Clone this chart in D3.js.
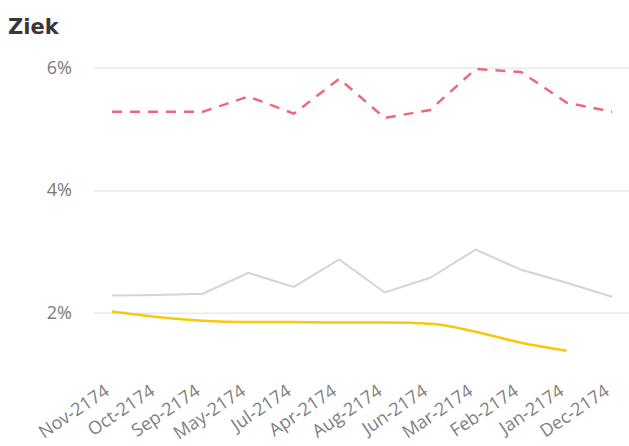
<!DOCTYPE html>
<html><head><meta charset="utf-8">
<script src="https://cdn.jsdelivr.net/npm/d3@7"></script>
<style>
body{margin:0;background:#fff;}
svg{display:block;font-family:"Open Sans",sans-serif;}
</style></head>
<body><svg id="c" width="629" height="446"></svg>
<script>
const categories = ["Nov-2174","Oct-2174","Sep-2174","May-2174","Jul-2174","Apr-2174","Aug-2174","Jun-2174","Mar-2174","Feb-2174","Jan-2174","Dec-2174"];
const redValues = [5.28,5.28,5.28,5.53,5.25,5.82,5.18,5.31,5.98,5.93,5.43,5.28];
const grayValues = [2.28,2.29,2.31,2.65,2.42,2.87,2.33,2.57,3.03,2.70,2.49,2.26];
const yellowValues = [2.02,1.93,1.87,1.85,1.85,1.84,1.84,1.82,1.69,1.51,1.38,null];
const yTicks = [2,4,6];
const title = "Ziek";

const svg = d3.select("#c");
const x = d3.scalePoint().domain(categories).range([112,612]);
const y = d3.scaleLinear().domain([2,6]).range([312.7,67.7]);

svg.append("text").attr("x",8).attr("y",34).text(title)
  .attr("font-size",21).attr("font-weight","bold").attr("fill","#383838")
  .attr("font-family","DejaVu Sans, sans-serif");

const yAxis = svg.append("g").attr("transform","translate(94,0)")
  .call(d3.axisLeft(y).tickValues(yTicks).tickSize(-535).tickFormat(d=>d+"%"));
yAxis.select(".domain").remove();
yAxis.selectAll(".tick line").attr("stroke","#e9e9e9").attr("stroke-width",1.5);
yAxis.selectAll(".tick text").attr("x",-22).attr("fill","#7a7a7a").attr("font-size",18).attr("font-family","Open Sans, sans-serif");

const xAxis = svg.append("g").attr("transform","translate(0,372)")
  .call(d3.axisBottom(x).tickSize(0).tickPadding(0));
xAxis.select(".domain").remove();
xAxis.selectAll(".tick text")
  .attr("fill","#808080").attr("font-size",18).attr("font-family","Open Sans, sans-serif")
  .attr("text-anchor","end").attr("x",0).attr("y",0).attr("dy",0)
  .attr("transform","translate(-2,22) rotate(-34)");

const line = d3.line().x((d,i)=>x(categories[i])).y(d=>y(d)).defined(d=>d!=null);

svg.append("path").datum(grayValues).attr("d",line)
  .attr("fill","none").attr("stroke","#d4d4d4").attr("stroke-width",2);
svg.append("path").datum(yellowValues).attr("d",line.curve(d3.curveMonotoneX))
  .attr("fill","none").attr("stroke","#f6c90e").attr("stroke-width",2.5);
svg.append("path").datum(redValues).attr("d",d3.line().x((d,i)=>x(categories[i])).y(d=>y(d)))
  .attr("fill","none").attr("stroke","#ea6a78").attr("stroke-width",2.5).attr("stroke-dasharray","10,8");
</script></body></html>
